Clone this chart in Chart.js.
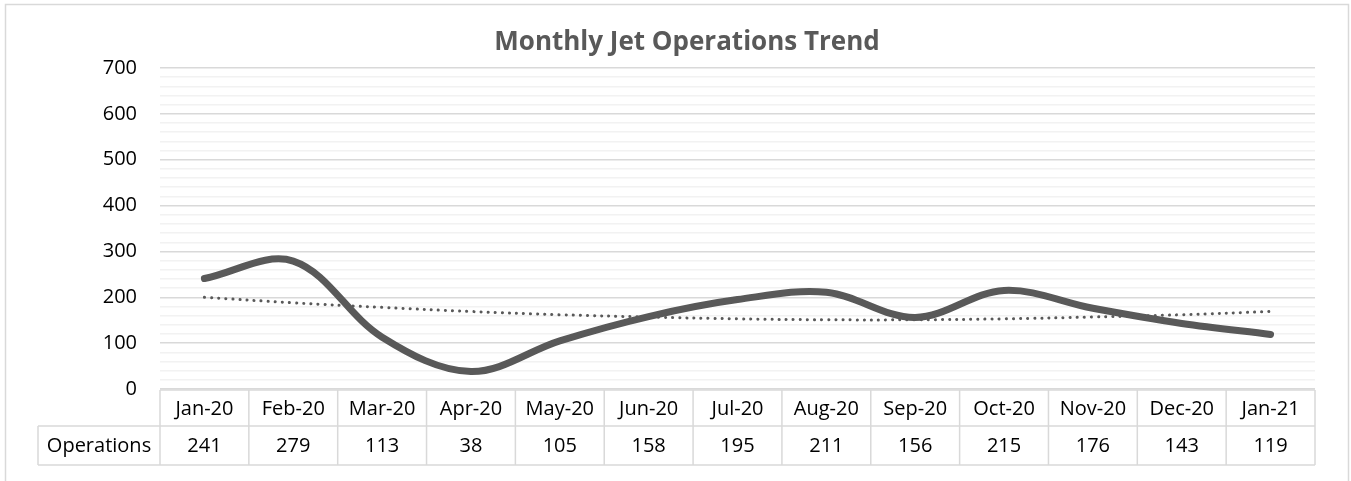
<!DOCTYPE html>
<html>
<head>
<meta charset="utf-8">
<script src="https://cdn.jsdelivr.net/npm/chart.js@4"></script>
<style>
  html, body { margin: 0; padding: 0; background: #fff; }
  #wrap { width: 1351px; height: 481px; }
</style>
</head>
<body>
<div id="wrap"><canvas id="graficoJatos"></canvas></div>
<script>
var meses = ['Jan-20', 'Feb-20', 'Mar-20', 'Apr-20', 'May-20', 'Jun-20', 'Jul-20',
             'Aug-20', 'Sep-20', 'Oct-20', 'Nov-20', 'Dec-20', 'Jan-21'];
var operacoes = [241, 279, 113, 38, 105, 158, 195, 211, 156, 215, 176, 143, 119];
// tendencia pontilhada
var tendencia = [200, 188, 178, 169, 162, 157, 153, 151, 151, 153, 157, 162, 169];
var rotuloSerie = 'Operations';
var titulo = 'Monthly Jet Operations Trend';

var corLinha = '#595959';
var corGrade = '#d9d9d9';
var corGradeMenor = '#f2f2f2';
var fonte = "'Open Sans', 'Noto Sans', sans-serif";

var moldura = {
    id: 'moldura',
    beforeDraw: function (chart) {
        var ctx = chart.ctx;
        ctx.save();
        ctx.strokeStyle = corGrade;
        ctx.lineWidth = 1.5;
        ctx.strokeRect(5.5, 4.5, 1343, 500);
        ctx.restore();
    },
    afterDraw: function (chart) {
        var ctx = chart.ctx;
        var x = chart.scales.x;
        var area = chart.chartArea;
        var passo = (area.right - area.left) / meses.length;
        var topo = area.bottom + 1, meio = topo + 36, base = meio + 39;

        ctx.save();
        // titulo
        ctx.fillStyle = corLinha;
        ctx.font = 'bold 26px ' + fonte;
        ctx.textAlign = 'center';
        ctx.textBaseline = 'middle';
        ctx.fillText(titulo, 687, 43);

        // tabela de dados
        ctx.strokeStyle = corGrade;
        ctx.lineWidth = 1.5;
        ctx.beginPath();
        ctx.moveTo(area.left, topo); ctx.lineTo(area.right, topo);
        ctx.moveTo(38, meio); ctx.lineTo(area.right, meio);
        ctx.moveTo(38, base); ctx.lineTo(area.right, base);
        ctx.moveTo(38, meio); ctx.lineTo(38, base);
        for (var i = 0; i <= meses.length; i++) {
            var px = area.left + i * passo;
            ctx.moveTo(px, topo); ctx.lineTo(px, base);
        }
        ctx.stroke();

        ctx.fillStyle = '#000';
        ctx.font = '20px ' + fonte;
        for (var j = 0; j < meses.length; j++) {
            var cx = x.getPixelForValue(j);
            ctx.fillText(meses[j], cx, (topo + meio) / 2 + 1);
            ctx.fillText(String(operacoes[j]), cx, (meio + base) / 2 + 1);
        }
        ctx.fillText(rotuloSerie, (38 + area.left) / 2, (meio + base) / 2 + 1);
        ctx.restore();
    }
};

new Chart(document.getElementById('graficoJatos'), {
    type: 'line',
    data: {
        labels: meses,
        datasets: [{
            label: rotuloSerie, data: operacoes,
            borderColor: corLinha, borderWidth: 7, borderCapStyle: 'round', borderJoinStyle: 'round',
            tension: 0.35, pointRadius: 0, fill: false
        }, {
            label: 'Trend', data: tendencia,
            borderColor: corLinha, borderWidth: 3, borderDash: [0.1, 7], borderCapStyle: 'round',
            tension: 0.4, pointRadius: 0, fill: false
        }]
    },
    options: {
        responsive: true,
        maintainAspectRatio: false,
        animation: false,
        layout: { padding: { left: 0, right: 36, top: 68, bottom: 92 } },
        plugins: { legend: { display: false }, tooltip: { enabled: false }, title: { display: false } },
        scales: {
            x: { display: false, offset: true },
            y: {
                min: 0, max: 700,
                afterFit: function (escala) { escala.width = 160; },
                border: { display: false },
                grid: {
                    drawTicks: false,
                    color: function (c) { return c.tick.value % 100 === 0 ? corGrade : corGradeMenor; },
                    lineWidth: 1.5
                },
                ticks: {
                    stepSize: 20, autoSkip: false, padding: 23,
                    color: '#000', font: { family: fonte, size: 20 },
                    callback: function (v) { return v % 100 === 0 ? v : ''; }
                }
            }
        }
    },
    plugins: [moldura]
});
</script>
</body>
</html>
